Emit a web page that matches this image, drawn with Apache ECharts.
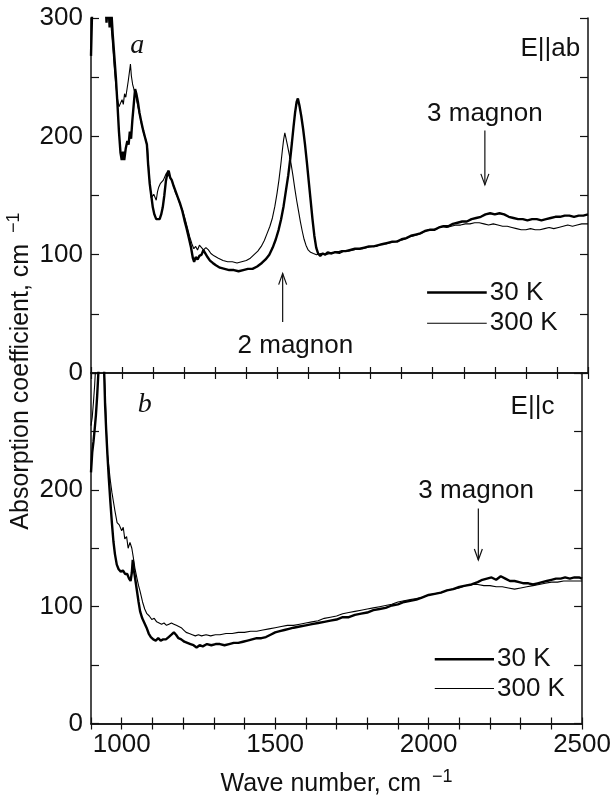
<!DOCTYPE html>
<html>
<head>
<meta charset="utf-8">
<script src="https://cdn.jsdelivr.net/npm/echarts@6/dist/echarts.min.js"></script>
<style>
html, body { margin: 0; padding: 0; background: #fff; }
#chart { width: 614px; height: 798px; }
</style>
</head>
<body>
<div id="chart"></div>
<script>
// panel a (E || ab), 30 K
var waveA30 = [900, 903, 906, 915, 930, 945, 950, 955, 960, 965, 970, 975, 980, 985, 990, 995, 999, 1003, 1007, 1012, 1017, 1021, 1025, 1029, 1033, 1038, 1042, 1046, 1051, 1056, 1062, 1068, 1074, 1080, 1084, 1089, 1094, 1099, 1104, 1110, 1116, 1121, 1126, 1131, 1136, 1141, 1146, 1150, 1155, 1160, 1166, 1173, 1180, 1187, 1194, 1201, 1208, 1215, 1222, 1228, 1232, 1237, 1243, 1249, 1256, 1262, 1268, 1275, 1283, 1292, 1302, 1315, 1330, 1345, 1360, 1375, 1390, 1405, 1420, 1435, 1450, 1462, 1474, 1485, 1495, 1504, 1512, 1520, 1528, 1535, 1541, 1547, 1552, 1557, 1562, 1566, 1571, 1577, 1583, 1589, 1595, 1601, 1607, 1613, 1619, 1625, 1631, 1638, 1646, 1654, 1662, 1672, 1684, 1696, 1708, 1720, 1735, 1750, 1765, 1780, 1795, 1810, 1825, 1840, 1855, 1870, 1885, 1900, 1915, 1930, 1945, 1960, 1975, 1990, 2005, 2020, 2035, 2050, 2065, 2080, 2095, 2110, 2125, 2140, 2155, 2170, 2185, 2200, 2215, 2230, 2245, 2260, 2275, 2290, 2305, 2320, 2335, 2350, 2365, 2380, 2395, 2410, 2425, 2440, 2455, 2470, 2485, 2500];
var absA30 = [268, 300, 318, 330, 330, 325, 296, 318, 292, 308, 286, 268, 250, 228, 204, 186, 180, 187, 180, 190, 196, 193, 204, 198, 213, 228, 240, 236, 229, 220, 212, 205, 199, 193, 176, 160, 150, 140, 134, 130, 129, 130, 134, 140, 150, 162, 169, 171, 165, 163, 158, 153, 148, 143, 137, 129, 122, 114, 106, 97, 94, 98, 96, 99, 100, 104, 101, 98, 95, 93, 91, 89, 88, 87, 87, 86, 87, 88, 88, 90, 93, 96, 100, 106, 113, 121, 130, 141, 155, 167, 180, 195, 208, 220, 229, 232, 226, 217, 206, 193, 178, 162, 146, 130, 116, 106, 101, 99, 101, 100, 102, 101, 102, 102, 103, 103, 104, 105, 105, 106, 107, 107, 108, 109, 110, 111, 111, 113, 114, 116, 117, 118, 120, 121, 121, 123, 124, 124, 126, 127, 128, 128, 130, 131, 132, 134, 135, 134, 135, 134, 132, 131, 130, 130, 129, 130, 130, 129, 130, 131, 132, 132, 133, 133, 132, 133, 133, 134];

// panel a (E || ab), 300 K
var waveA300 = [900, 930, 955, 960, 965, 970, 975, 980, 985, 990, 995, 1000, 1004, 1008, 1012, 1016, 1020, 1024, 1027, 1030, 1034, 1039, 1045, 1051, 1057, 1063, 1070, 1077, 1082, 1086, 1090, 1094, 1098, 1102, 1106, 1110, 1114, 1118, 1123, 1128, 1133, 1138, 1143, 1148, 1153, 1158, 1164, 1171, 1178, 1186, 1194, 1202, 1210, 1218, 1225, 1231, 1237, 1243, 1249, 1255, 1262, 1270, 1278, 1286, 1296, 1310, 1325, 1340, 1355, 1370, 1385, 1400, 1413, 1425, 1437, 1448, 1458, 1467, 1476, 1484, 1492, 1499, 1505, 1511, 1516, 1520, 1524, 1528, 1532, 1538, 1544, 1550, 1556, 1562, 1568, 1574, 1580, 1586, 1592, 1599, 1607, 1616, 1626, 1640, 1655, 1670, 1685, 1700, 1715, 1730, 1745, 1760, 1775, 1790, 1805, 1820, 1835, 1850, 1865, 1880, 1895, 1910, 1925, 1940, 1955, 1970, 1985, 2000, 2015, 2030, 2045, 2060, 2075, 2090, 2105, 2120, 2135, 2150, 2165, 2180, 2195, 2210, 2225, 2240, 2255, 2270, 2285, 2300, 2315, 2330, 2345, 2360, 2375, 2390, 2405, 2420, 2435, 2450, 2465, 2480, 2500];
var absA300 = [330, 335, 330, 305, 292, 276, 258, 243, 232, 225, 224, 231, 227, 236, 233, 240, 247, 255, 261, 251, 244, 239, 233, 225, 218, 210, 202, 197, 190, 172, 158, 148, 147, 151, 152, 146, 153, 157, 160, 161, 163, 166, 169, 170, 166, 164, 160, 153, 149, 143, 138, 131, 123, 115, 109, 105, 107, 104, 108, 107, 104, 106, 104, 101, 99, 97, 95, 94, 94, 93, 94, 95, 97, 100, 103, 107, 112, 118, 124, 131, 141, 152, 163, 176, 188, 197, 203, 198, 193, 185, 177, 167, 156, 146, 137, 128, 120, 113, 108, 104, 102, 101, 100, 101, 100, 101, 102, 101, 103, 103, 104, 105, 105, 106, 107, 107, 109, 109, 110, 111, 112, 113, 115, 116, 117, 119, 121, 121, 122, 124, 123, 124, 125, 125, 126, 126, 127, 127, 126, 125, 126, 125, 124, 124, 123, 122, 121, 121, 122, 121, 121, 122, 123, 122, 123, 124, 125, 124, 125, 126, 126];

// panel b (E || c), 30 K
var waveC30 = [900, 904, 908, 912, 916, 920, 924, 928, 934, 940, 943, 946, 950, 954, 958, 963, 968, 973, 978, 984, 990, 997, 1004, 1011, 1018, 1024, 1029, 1033, 1036, 1040, 1045, 1050, 1055, 1060, 1067, 1074, 1081, 1088, 1095, 1103, 1111, 1119, 1127, 1135, 1144, 1153, 1162, 1170, 1177, 1185, 1194, 1204, 1214, 1224, 1234, 1244, 1254, 1264, 1278, 1292, 1306, 1320, 1335, 1350, 1365, 1380, 1395, 1410, 1425, 1440, 1455, 1470, 1485, 1500, 1515, 1530, 1545, 1560, 1580, 1600, 1620, 1640, 1660, 1680, 1700, 1720, 1740, 1760, 1780, 1800, 1820, 1840, 1860, 1880, 1900, 1920, 1940, 1960, 1980, 2000, 2020, 2040, 2060, 2080, 2100, 2120, 2140, 2160, 2175, 2190, 2205, 2220, 2235, 2250, 2265, 2280, 2295, 2310, 2325, 2340, 2355, 2370, 2385, 2400, 2415, 2430, 2445, 2460, 2475, 2490, 2500];
var absC30 = [215, 232, 241, 252, 264, 280, 300, 325, 335, 325, 300, 272, 248, 228, 210, 190, 172, 156, 145, 136, 132, 130, 131, 128, 128, 124, 122, 129, 140, 131, 122, 113, 104, 96, 90, 86, 82, 77, 74, 72, 71, 73, 71, 72, 72, 74, 76, 78, 76, 73, 72, 70, 69, 68, 67, 65, 67, 66, 68, 67, 68, 68, 67, 68, 69, 69, 70, 71, 72, 73, 73, 74, 76, 78, 79, 80, 81, 82, 83, 84, 85, 86, 87, 88, 89, 91, 91, 93, 94, 95, 97, 98, 99, 101, 102, 104, 105, 106, 108, 110, 111, 112, 114, 115, 117, 118, 119, 121, 123, 124, 125, 123, 126, 124, 122, 122, 121, 120, 120, 119, 120, 121, 122, 123, 124, 124, 125, 124, 125, 125, 124];

// panel b (E || c), 300 K
var waveC300 = [900, 904, 908, 912, 916, 930, 940, 945, 949, 953, 958, 963, 968, 973, 978, 985, 992, 1000, 1005, 1010, 1016, 1021, 1027, 1033, 1038, 1043, 1050, 1055, 1060, 1068, 1075, 1082, 1090, 1098, 1106, 1114, 1122, 1130, 1138, 1146, 1154, 1162, 1170, 1178, 1186, 1194, 1202, 1210, 1220, 1230, 1240, 1250, 1260, 1275, 1290, 1305, 1320, 1340, 1360, 1380, 1400, 1420, 1440, 1460, 1480, 1500, 1520, 1540, 1560, 1580, 1600, 1620, 1640, 1660, 1680, 1700, 1720, 1740, 1760, 1780, 1800, 1820, 1840, 1860, 1880, 1900, 1920, 1940, 1960, 1980, 2000, 2020, 2040, 2060, 2080, 2100, 2120, 2140, 2160, 2180, 2200, 2220, 2240, 2260, 2280, 2300, 2320, 2340, 2360, 2380, 2400, 2420, 2440, 2460, 2480, 2500];
var absC300 = [255, 262, 275, 290, 310, 330, 320, 290, 262, 232, 220, 208, 198, 190, 182, 172, 170, 165, 168, 158, 160, 150, 155, 150, 142, 133, 124, 118, 113, 104, 98, 94, 92, 89, 90, 87, 86, 85, 86, 84, 85, 86, 85, 84, 83, 82, 80, 78, 77, 76, 75, 76, 75, 76, 75, 76, 76, 77, 77, 78, 78, 79, 79, 80, 81, 82, 83, 84, 84, 85, 86, 87, 88, 90, 91, 92, 94, 95, 96, 97, 98, 99, 100, 101, 102, 104, 105, 106, 107, 108, 110, 111, 112, 114, 115, 116, 118, 119, 119, 118, 118, 117, 117, 116, 115, 116, 117, 118, 119, 120, 121, 121, 122, 122, 122, 122];

var xTicks = [1000, 1500, 2000, 2500];
var seriesNames = ['30 K', '300 K'];

var FONT = 'Liberation Sans, Arial, sans-serif';
var INK = '#111';

function pairs(xs, ys) {
    return xs.map(function (x, i) { return [x, ys[i]]; });
}

var chart = echarts.init(document.getElementById('chart'));

function xAxisFor(grid, pos, labels) {
    return {
        type: 'value', gridIndex: grid, position: pos,
        min: 900, max: 2500, interval: 100,
        axisLine: { show: true, lineStyle: { color: INK, width: 1.5 } },
        axisTick: { show: true, inside: true, length: 6, lineStyle: { color: INK, width: 1.2 } },
        axisLabel: {
            show: labels, color: INK, fontFamily: FONT, fontSize: 26, margin: 8,
            formatter: function (v) { return xTicks.indexOf(v) >= 0 ? String(v) : ''; }
        },
        splitLine: { show: false },
        name: labels ? '{t|Wave number, cm }{s|\u22121}' : '',
        nameLocation: 'middle', nameGap: 45,
        nameTextStyle: {
            rich: {
                t: { fontFamily: FONT, fontSize: 25, color: INK },
                s: { fontFamily: FONT, fontSize: 18, color: INK, padding: [0, 0, 14, 4] }
            }
        }
    };
}

function yAxisFor(grid, pos, labels, maxLabel) {
    return {
        type: 'value', gridIndex: grid, position: pos,
        min: 0, max: 300, interval: 50,
        axisLine: { show: true, lineStyle: { color: INK, width: 1.5 } },
        axisTick: { show: true, inside: true, length: 8, lineStyle: { color: INK, width: 1.2 } },
        axisLabel: {
            show: labels, color: INK, fontFamily: FONT, fontSize: 26, margin: 8,
            formatter: function (v) { return (v % 100 === 0 && v <= maxLabel) ? String(v) : ''; }
        },
        splitLine: { show: false }
    };
}

function curve(name, data, grid, width) {
    return {
        name: name, type: 'line', data: data,
        xAxisIndex: grid * 2, yAxisIndex: grid * 2,
        showSymbol: false, symbol: 'none', clip: true, animation: false,
        lineStyle: { color: '#000', width: width }
    };
}

chart.setOption({
    backgroundColor: '#fff',
    animation: false,
    grid: [
        { left: 91, top: 18, width: 497, height: 355 },
        { left: 91, top: 373, width: 497, height: 355 }
    ],
    xAxis: [
        xAxisFor(0, 'bottom', false),
        xAxisFor(0, 'top', false),
        xAxisFor(1, 'bottom', true),
        xAxisFor(1, 'top', false)
    ],
    yAxis: [
        yAxisFor(0, 'left', true, 300),
        yAxisFor(0, 'right', false, 300),
        yAxisFor(1, 'left', true, 200),
        yAxisFor(1, 'right', false, 200)
    ],
    series: [
        curve(seriesNames[1], pairs(waveA300, absA300), 0, 1.1),
        curve(seriesNames[0], pairs(waveA30, absA30), 0, 2.4),
        curve(seriesNames[1], pairs(waveC300, absC300), 1, 1.1),
        curve(seriesNames[0], pairs(waveC30, absC30), 1, 2.4)
    ]
});

// annotations placed in data coordinates
function px(grid, x, y) {
    return chart.convertToPixel({ gridIndex: grid }, [x, y]);
}

function arrow(grid, x, y0, y1) {
    var a = px(grid, x, y0), b = px(grid, x, y1);
    var dir = b[1] > a[1] ? 1 : -1;
    return [
        { type: 'line', shape: { x1: a[0], y1: a[1], x2: b[0], y2: b[1] }, style: { stroke: INK, lineWidth: 1.2 } },
        { type: 'polyline', shape: { points: [[b[0] - 4, b[1] - dir * 11], [b[0], b[1]], [b[0] + 4, b[1] - dir * 11]] },
          style: { stroke: INK, lineWidth: 1.2, fill: null } }
    ];
}

function label(grid, x, y, text, align, extra) {
    var p = px(grid, x, y);
    var st = { text: text, x: p[0], y: p[1], fill: INK, font: '26px ' + FONT, align: align || 'center', verticalAlign: 'middle' };
    if (extra) Object.keys(extra).forEach(function (k) { st[k] = extra[k]; });
    return { type: 'text', style: st };
}

function legendRows(grid, x0, x1, yThick, yThin) {
    var out = [];
    [[yThick, 2.4, seriesNames[0]], [yThin, 1.1, seriesNames[1]]].forEach(function (r) {
        var a = px(grid, x0, r[0]), b = px(grid, x1, r[0]);
        out.push({ type: 'line', shape: { x1: a[0], y1: a[1], x2: b[0], y2: b[1] }, style: { stroke: '#000', lineWidth: r[1] } });
        out.push({ type: 'text', style: { text: r[2], x: b[0] + 3, y: b[1], fill: INK, font: '26px ' + FONT, verticalAlign: 'middle' } });
    });
    return out;
}

var g = [];
g = g.concat(arrow(0, 2168, 205, 159));
g.push(label(0, 2168, 219, '3 magnon'));
g = g.concat(arrow(0, 1517, 43, 84));
g.push(label(0, 1558, 23, '2 magnon'));
g = g.concat(arrow(1, 2162, 184, 140));
g.push(label(1, 2155, 199, '3 magnon'));
g.push(label(0, 1049, 277, 'a', 'center', { font: 'italic 28px Liberation Serif, serif' }));
g.push(label(1, 1075, 273, 'b', 'center', { font: 'italic 28px Liberation Serif, serif' }));
g.push(label(0, 2475, 274, 'E||ab', 'right'));
g.push(label(1, 2410, 271, 'E||c', 'right'));
g = g.concat(legendRows(0, 1982, 2174, 68, 42));
g = g.concat(legendRows(1, 2020, 2213, 55, 30));

// shared y-axis title, rotated, centred on the two panels
g.push({
    type: 'text', x: 21, y: 371, rotation: Math.PI / 2,
    style: {
        text: '{t|Absorption coefficient, cm }{s|\u22121}',
        align: 'center', verticalAlign: 'middle',
        rich: {
            t: { fontFamily: FONT, fontSize: 25, fill: INK },
            s: { fontFamily: FONT, fontSize: 18, fill: INK, padding: [0, 0, 14, 4] }
        }
    }
});

chart.setOption({ graphic: g });
</script>
</body>
</html>
